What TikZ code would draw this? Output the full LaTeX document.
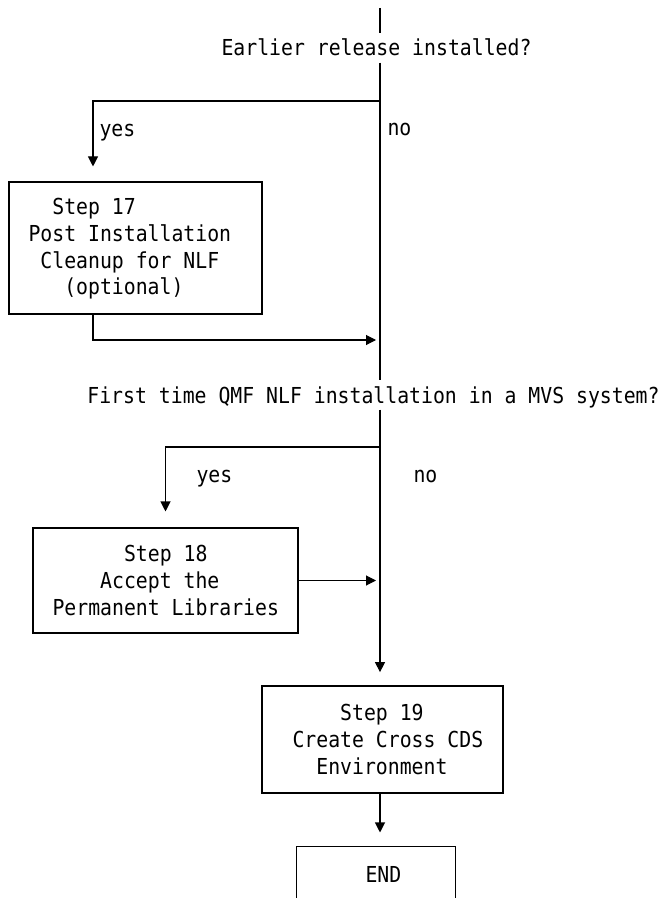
\documentclass[tikz,border=0pt]{standalone}
\usepackage{fontspec}
\newfontfamily\flowfont[FakeStretch=0.9]{DejaVu Sans Mono}
\usetikzlibrary{arrows.meta}
\begin{document}
\begin{tikzpicture}[x=0.75pt, y=-0.75pt, line width=0.8pt,
  every node/.style={font=\flowfont\fontsize{16.5pt}{20pt}\selectfont},
  stepbox/.style={draw, inner sep=0pt},
  steptext/.style={inner sep=0pt, anchor=base west, align=left},
  question/.style={inner sep=4.5pt, text depth=0pt, anchor=base},
  answer/.style={inner sep=0pt, anchor=base west},
  flow/.style={-{Triangle[length=7.5pt, width=7.5pt]}}]
\useasboundingbox (0,0) rectangle (663,898);
\coordinate (top) at (380,8);
\coordinate (j1) at (380,101);
\coordinate (j2) at (380,447);
\coordinate (y1) at (93,101);
\coordinate (m1) at (380,340);
\node[question] (q1) at (376.5,56) {Earlier release installed?};
\node[question] (q2) at (373.5,403) {First time QMF NLF installation in a MVS system?};
\foreach \nm/\pos/\txt in {yes1/{99,137}/yes, no1/{387,136}/no, yes2/{196,482}/yes, no2/{413,482}/no}
{
  \node[answer] (\nm) at (\pos) {\txt};
}
\node[stepbox, minimum width=189.75pt, minimum height=99pt] (b17) at (135.5,248) {};
\node[steptext] (t17) at (28,295) {\hphantom{xx}Step 17\\Post Installation\\\hphantom{x}Cleanup for NLF\\\hphantom{xxx}(optional)};
\node[stepbox, minimum width=198.75pt, minimum height=78.75pt] (b18) at (165.5,580.5) {};
\node[steptext] (t18) at (52,615) {\hphantom{xxxxxx}Step 18\\\hphantom{xxxx}Accept the\\Permanent Libraries};
\node[stepbox, minimum width=180.75pt, minimum height=80.25pt] (b19) at (382.5,739.5) {};
\node[steptext] (t19) at (292,774) {\hphantom{xxxx}Step 19\\Create Cross CDS\\\hphantom{xx}Environment};
\node[inner sep=0pt, minimum width=118.5pt, minimum height=75pt] (end) at (376,897) {};
\node[answer] (tend) at (365,882) {END};
\draw (top) -- (top |- q1.north);
\draw (top |- q1.south) -- (top |- q2.north);
\draw[flow, shorten >=10pt] (top |- q2.south) -- (top |- b19.north);
\draw[flow, shorten >=10.5pt] (top |- b19.south) -- (top |- end.north);
\draw[flow, shorten >=11.25pt] (j1) -- (y1) -- (y1 |- b17.north);
\draw[flow, shorten >=3pt] (y1 |- b17.south) |- (m1);
\draw[flow, shorten >=12pt] (j2) -| (b18.north);
\draw[flow, shorten >=3pt] (b18.east) -- (b18.east -| top);
\draw (end.south west) -- (end.north west) -- (end.north east) -- (end.south east);
\end{tikzpicture}
\end{document}
